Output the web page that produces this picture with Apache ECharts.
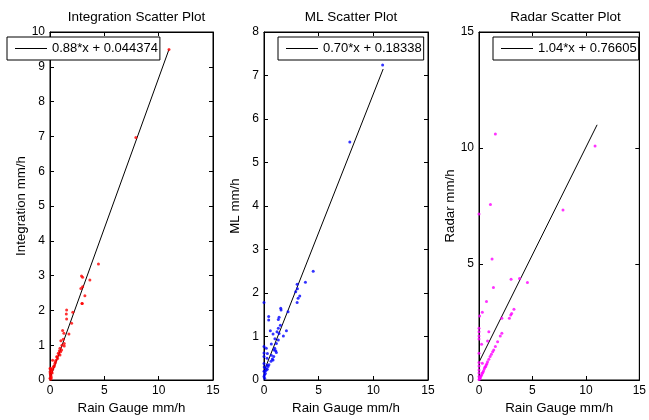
<!DOCTYPE html>
<html>
<head>
<meta charset="utf-8">
<script src="https://cdn.jsdelivr.net/npm/echarts@6/dist/echarts.min.js"></script>
<style>html,body{margin:0;padding:0;background:#fff}#c{width:649px;height:420px}</style>
</head>
<body>
<div id="c"></div>
<script>
const titles = ['Integration Scatter Plot', 'ML Scatter Plot', 'Radar Scatter Plot'];
const yNames = ['Integration mm/h', 'ML mm/h', 'Radar mm/h'];
const xName = 'Rain Gauge mm/h';
const fitNames = ['0.88*x + 0.044374', '0.70*x + 0.18338', '1.04*x + 0.76605'];
const yMax = [10, 8, 15];
const yStep = [1, 1, 5];
const xTicks = [0, 5, 10, 15];

const intX = [10.95,7.9,4.46,3.67,2.9,3.0,2.84,3.0,3.21,2.94,2.1,1.99,1.53,1.5,1.53,1.74,1.16,1.28,1.22,1.0,1.31,1.31,0.92,0.86,1.07,0.76,0.92,0.67,0.55,0.24,0.46,0.37,0.24,0.15,0.06,0,0,0.06,0,0.15,0.98,0.61,0.31,0.1,0.05,0.2,0.12,0.4,0.7,0.82,0.5,1.1,0.02,0.08,2.97];
const intY = [9.5,6.97,3.33,2.87,2.99,2.95,2.63,2.68,2.42,2.2,1.95,1.63,2.01,1.9,1.75,1.32,1.42,1.34,1.17,1.13,1.05,0.98,0.91,0.84,0.86,0.77,0.72,0.67,0.57,0.57,0.48,0.38,0.31,0.24,0.14,0.05,0.33,0.34,0.24,0.29,0.81,0.67,0.38,0.1,0.02,0.2,0.06,0.42,0.62,0.75,0.52,1.0,0.18,0.3,2.2];

const mlX = [10.85,7.85,4.5,3.79,3.03,3.06,2.9,3.27,3.12,3.03,2.2,1.53,1.56,2.05,1.77,1.38,1.31,1.5,1.31,1.19,1.38,1.31,0.43,0.43,0.58,0.83,0,0,0.21,0.31,0.28,0,0.98,1.07,1.13,0.92,0.89,0.76,0.64,0.83,0.67,0.37,0.21,0.12,0,0.06,0.15,0.28,0.02,0,0.1,0,0.05,0.3,0.45,1.0,0,0.67,1.13];
const mlY = [7.24,5.47,2.5,2.25,2.2,2.1,2.03,1.93,1.88,1.78,1.57,1.65,1.61,1.13,1.01,1.44,1.39,1.26,1.19,1.11,1.07,0.92,1.46,1.38,1.13,1.06,1.78,0.77,0.73,0.61,0.5,0.54,0.73,0.67,0.63,0.69,0.54,0.48,0.43,0.46,0.57,0.31,0.23,0.15,0.08,0.04,0.27,0.34,0.3,0.38,0.2,0.2,0.12,0.25,0.35,0.95,0.62,0.83,0.84];

const radX = [10.86,1.53,1.07,0,7.86,1.22,4.53,3.79,3.0,1.35,0.7,0.31,0.06,3.27,3.06,2.97,2.84,2.14,2.14,1.99,1.74,1.53,1.38,1.28,1.16,1.04,0.92,0.8,0.67,0.55,0.43,0.31,0.18,0.06,0.92,0.8,0.24,0,0,0,0,0,0,0,0,0.31,0,0.1,0.25,0.5,0.62,0.36,0.12,0.74,0,0];
const radY = [10.09,10.6,7.57,7.16,7.33,5.22,4.2,4.38,4.34,3.99,3.38,2.92,2.76,3.05,2.87,2.8,2.66,2.66,2.01,1.9,1.65,1.44,1.29,1.22,1.11,1.01,0.89,0.79,0.65,0.55,0.4,0.29,0.17,0.07,2.08,1.68,1.54,2.23,2.08,1.9,1.77,1.15,0.75,0.6,0.43,0.72,0.02,0.05,0.22,0.48,0.58,0.33,0.12,0.7,0.3,0.15];

const fitX = [[0,10.95],[0,10.9],[0,11.05]];
const fitY = [[0.04,9.5],[0.2,7.15],[0.77,11.0]];

const ptsX = [intX, mlX, radX];
const ptsY = [intY, mlY, radY];
const colors = ['#ff0000', '#0000ff', '#ff00ff'];

const gridLeft = [50, 264, 479];
const gridW = [163, 164, 163];
const legendLeft = [7, 278, 493];
const legendW = [150, 144, 142];
const FONT = 'Liberation Sans, Arial, Helvetica, sans-serif';

const zip = (a, b) => a.map((v, i) => [v, b[i]]);

const grid = [], xAxis = [], yAxis = [], series = [], title = [], legend = [];
for (let i = 0; i < 3; i++) {
  grid.push({left: gridLeft[i], top: 32, width: gridW[i], height: 348, show: true, borderColor: '#000', borderWidth: 1, backgroundColor: '#fff'});
  title.push({text: titles[i], left: gridLeft[i] + gridW[i] / 2, top: 5, textAlign: 'center',
    textStyle: {fontFamily: FONT, fontSize: 13.5, fontWeight: 'normal', color: '#000'}});
  const common = {gridIndex: i, type: 'value', min: 0, splitLine: {show: false},
    axisLine: {show: true, onZero: false, lineStyle: {color: '#000', width: 1}},
    axisTick: {show: true, inside: true, length: 4, lineStyle: {color: '#000'}}};
  xAxis.push(Object.assign({}, common, {position: 'bottom', max: 15, interval: 5,
    name: xName, nameLocation: 'middle', nameGap: 19,
    nameTextStyle: {fontFamily: FONT, fontSize: 13.3, color: '#000', verticalAlign: 'top'},
    axisLabel: {show: true, margin: 5, fontFamily: FONT, fontSize: 12, color: '#000'}}));
  xAxis.push(Object.assign({}, common, {position: 'top', max: 15, interval: 5, axisLabel: {show: false}}));
  yAxis.push(Object.assign({}, common, {position: 'left', max: yMax[i], interval: yStep[i],
    name: yNames[i], nameLocation: 'middle', nameGap: 22,
    nameTextStyle: {fontFamily: FONT, fontSize: 13.3, color: '#000'},
    axisLabel: {show: true, margin: 5, fontFamily: FONT, fontSize: 12, color: '#000'}}));
  yAxis.push(Object.assign({}, common, {position: 'right', max: yMax[i], interval: yStep[i], axisLabel: {show: false}}));
  series.push({type: 'scatter', xAxisIndex: 2 * i, yAxisIndex: 2 * i, data: zip(ptsX[i], ptsY[i]),
    symbol: 'circle', symbolSize: 3, itemStyle: {color: colors[i]}, clip: false, silent: true, z: 3});
  series.push({type: 'line', name: fitNames[i], xAxisIndex: 2 * i, yAxisIndex: 2 * i, data: zip(fitX[i], fitY[i]),
    symbol: 'none', lineStyle: {color: '#000', width: 1}, itemStyle: {color: '#000'}, silent: true, z: 2});
  legend.push({data: [fitNames[i]], left: legendLeft[i], top: 37, width: legendW[i], orient: 'horizontal',
    icon: 'rect', itemWidth: 32, itemHeight: 1, itemGap: 5,
    padding: [5, 2, 5, 8], borderColor: '#000', borderWidth: 1, backgroundColor: '#fff',
    selectedMode: false, textStyle: {fontFamily: FONT, fontSize: 13, color: '#000', padding: [0, 0, 0, 0]}});
}

const chart = echarts.init(document.getElementById('c'), null, {renderer: 'canvas'});
chart.setOption({animation: false, backgroundColor: '#fff', title, legend, grid, xAxis, yAxis, series});
</script>
</body>
</html>
